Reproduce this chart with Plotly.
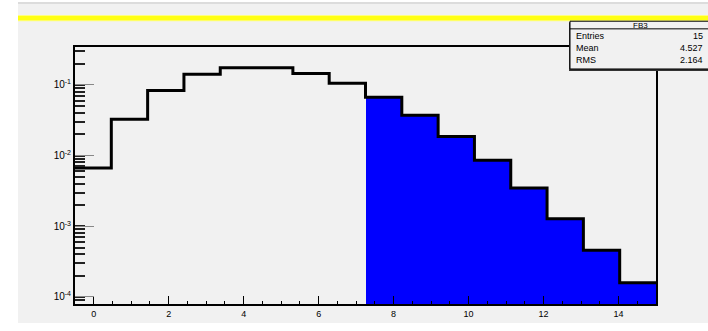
import numpy as np
import plotly.graph_objects as go

# ---- data ----
bin_lo, bin_hi, n_bins = -0.5, 15.0, 16
counts = [0.00667, 0.0326, 0.083, 0.141, 0.175, 0.175, 0.145, 0.105,
          0.0667, 0.037, 0.0186, 0.00855, 0.00348, 0.00128, 0.000457, 0.000159]
fill_from_bin = 8                      # bins drawn with blue fill
x_tick_vals = [0, 2, 4, 6, 8, 10, 12, 14]
y_tick_vals = [1e-4, 1e-3, 1e-2, 1e-1]
y_tick_text = ["10<sup>-4</sup>", "10<sup>-3</sup>", "10<sup>-2</sup>", "10<sup>-1</sup>"]
stats_title = "FB3"
stats_names = ["Entries", "Mean", "RMS"]
stats_values = ["15", "4.527", "2.164"]

# ---- geometry ----
W, H = 708, 331
L, R, T, B = 75, 52, 47, 15
PW, PH = W - L - R, H - T - B


def px(x):
    return (x - L) / PW


def py(y):
    return (H - B - y) / PH


edges = np.linspace(bin_lo, bin_hi, n_bins + 1)
centers = 0.5 * (edges[:-1] + edges[1:])
bw = edges[1] - edges[0]

fig = go.Figure()

# blue filled part
fig.add_trace(go.Bar(
    x=centers[fill_from_bin:], y=counts[fill_from_bin:], width=bw,
    marker=dict(color="#0000ff", line=dict(width=0)),
    hoverinfo="skip", showlegend=False))

# step outline
step_x = list(edges[:-1]) + [edges[-1]]
step_y = list(counts) + [counts[-1]]
fig.add_trace(go.Scatter(
    x=step_x, y=step_y, mode="lines", line=dict(color="black", width=3, shape="hv"),
    hoverinfo="skip", showlegend=False))

shapes = []
# canvas gray background (left strip white)
shapes.append(dict(type="rect", xref="paper", yref="paper", layer="below",
                   x0=px(18), x1=px(W + 5), y0=py(H + 5), y1=py(0),
                   fillcolor="#f1f1f1", line=dict(width=0)))
# top border
shapes.append(dict(type="rect", xref="paper", yref="paper", layer="below",
                   x0=px(18), x1=px(W + 5), y0=py(2), y1=py(0),
                   fillcolor="#dcdcdc", line=dict(width=0)))
# yellow line
shapes.append(dict(type="rect", xref="paper", yref="paper", layer="below",
                   x0=px(18), x1=px(W + 5), y0=py(20), y1=py(13.5),
                   fillcolor="#ffff80", line=dict(width=0)))
shapes.append(dict(type="rect", xref="paper", yref="paper", layer="below",
                   x0=px(18), x1=px(W + 5), y0=py(19), y1=py(14.5),
                   fillcolor="#ffff14", line=dict(width=0)))

# stats box: shadow + box
shapes.append(dict(type="rect", xref="paper", yref="paper", layer="above",
                   x0=px(569), x1=px(W + 5), y0=py(72), y1=py(21),
                   fillcolor="#333333", line=dict(width=0)))
shapes.append(dict(type="rect", xref="paper", yref="paper", layer="above",
                   x0=px(570), x1=px(W + 5), y0=py(70), y1=py(20),
                   fillcolor="#f1f1f1", line=dict(color="black", width=1)))
shapes.append(dict(type="line", xref="paper", yref="paper", layer="above",
                   x0=px(570), x1=px(W + 5), y0=py(28), y1=py(28),
                   line=dict(color="black", width=1)))

annotations = [dict(text=stats_title, xref="paper", yref="paper",
                    x=px(640), y=py(24), showarrow=False,
                    font=dict(size=8, color="black", family="Liberation Sans"),
                    xanchor="center", yanchor="middle")]
for i, (n, v) in enumerate(zip(stats_names, stats_values)):
    yy = py(35 + 13 * i)
    annotations.append(dict(text=n, xref="paper", yref="paper", x=px(574), y=yy,
                            showarrow=False, xanchor="left", yanchor="middle",
                            font=dict(size=9, color="black", family="Liberation Sans")))
    annotations.append(dict(text=v, xref="paper", yref="paper", x=px(705), y=yy,
                            showarrow=False, xanchor="right", yanchor="middle",
                            font=dict(size=9, color="black", family="Liberation Sans")))

fig.update_layout(
    width=W, height=H, margin=dict(l=L, r=R, t=T, b=B, pad=0),
    paper_bgcolor="white", plot_bgcolor="rgba(0,0,0,0)",
    shapes=shapes, annotations=annotations, bargap=0,
    font=dict(family="Liberation Sans", color="black"),
    xaxis=dict(range=[bin_lo, bin_hi], showgrid=False, zeroline=False,
               showline=True, linecolor="black", linewidth=2, mirror=True,
               tickmode="array", tickvals=x_tick_vals, ticks="inside",
               ticklen=8, tickwidth=1, tickcolor="black",
               tickfont=dict(size=9, color="black"),
               minor=dict(dtick=0.5, ticks="inside", ticklen=3, tickwidth=1,
                          tickcolor="black", showgrid=False)),
    yaxis=dict(type="log", range=[-4.10, -0.465], showgrid=False, zeroline=False,
               showline=True, linecolor="black", linewidth=2, mirror=True,
               tickmode="array", tickvals=y_tick_vals, ticktext=y_tick_text,
               ticks="inside", ticklen=19, tickwidth=1, tickcolor="#888888",
               tickfont=dict(size=10, color="black"),
               minor=dict(dtick="D1", ticks="inside", ticklen=10, tickwidth=1.5,
                          tickcolor="#222222", showgrid=False)),
)

fig.write_html("out.html")
